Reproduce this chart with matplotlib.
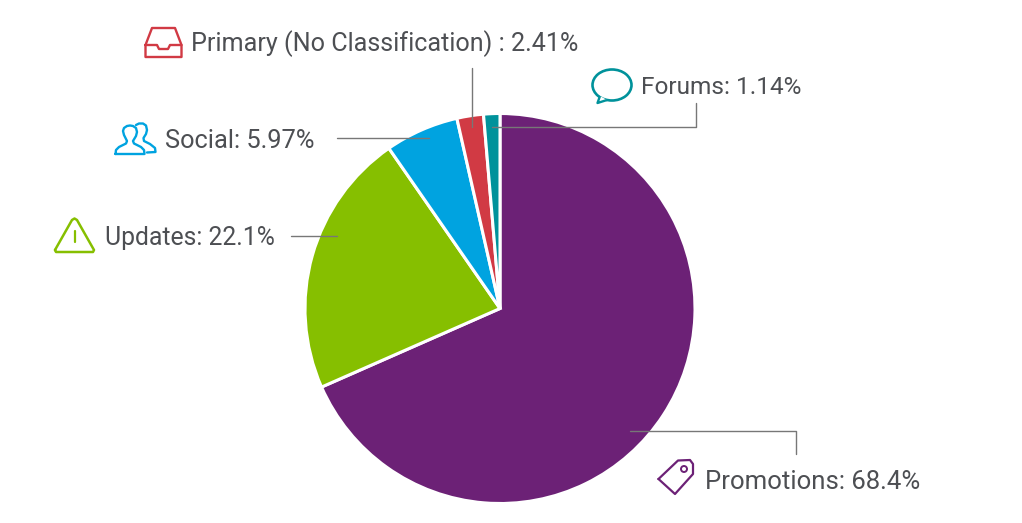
import matplotlib
matplotlib.use('Agg')
import matplotlib.pyplot as plt
from matplotlib.patches import Circle, Ellipse, Polygon

WIDTH = 1022
HEIGHT = 523

labels = ['Promotions: 68.4%', 'Updates: 22.1%', 'Social: 5.97%',
          'Primary (No Classification) : 2.41%', 'Forums: 1.14%']
# slice sizes as drawn in the picture, these differ a little from the printed labels
values = [68.4, 21.95, 6.1, 2.2, 1.35]
colors = ['#6c2176', '#86bf00', '#00a3e0', '#d13a44', '#00929b']

TEXT_COLOR = '#4d4f53'
LINE_COLOR = '#777777'


def Y(py):
    # the reference was read in pixels from the top, the axes count from the bottom
    return HEIGHT - py


def line(ax, xs, ys, color=LINE_COLOR, lw=1.0, z=5):
    ax.plot(xs, [Y(v) for v in ys], color=color, lw=lw, zorder=z,
            solid_capstyle='round', solid_joinstyle='round')


def draw_inbox(ax, c):
    line(ax, [145.5, 152, 175, 181.5, 181.5, 145.5, 145.5], [45, 28, 28, 45, 57, 57, 45], c, 1.7)
    line(ax, [145.5, 157, 159, 168, 170, 181.5], [45, 45, 49, 49, 45, 45], c, 1.7)


def draw_people(ax, c):
    # front person
    xs = [115.5, 116, 119, 126, 127, 124, 123, 124, 127, 130, 133, 136, 137, 136, 133, 134, 141, 144, 144.5, 115.5]
    ys = [154, 150, 147, 143.5, 141, 135, 131, 128, 126, 125.5, 126, 128, 132, 136, 141, 143.5, 147, 150, 154, 154]
    line(ax, xs, ys, c, 1.7)
    # rear person, partly hidden by the front one
    xs2 = [136, 139, 143, 146, 147, 146, 143.5, 144, 150, 155, 155.5, 147]
    ys2 = [125, 123.5, 123.5, 125.5, 130, 134, 138, 141, 144, 148, 152, 152.5]
    line(ax, xs2, ys2, c, 1.7)


def draw_warning(ax, c):
    line(ax, [55, 72, 74.5, 77, 94, 93, 56, 55], [250, 220, 218.5, 220, 250, 252, 252, 250], c, 1.8)
    line(ax, [74.5, 74.5], [231, 242], c, 1.6)
    line(ax, [74.5, 74.5], [245.5, 246], c, 1.8)


def draw_bubble(ax, c):
    ax.add_patch(Ellipse((612, Y(85)), 39, 31, fill=False, ec=c, lw=1.9, zorder=5))
    ax.add_patch(Polygon([(600, Y(96)), (597.5, Y(103)), (607, Y(100))], closed=False,
                         fc='white', ec=c, lw=1.7, zorder=6, joinstyle='round'))


def draw_tag(ax, c):
    line(ax, [658.5, 678, 690, 693, 693, 675, 658.5], [479, 460.5, 460, 464, 474, 494, 479], c, 1.6)
    ax.add_patch(Circle((684, Y(469)), 3, fill=False, ec=c, lw=1.4, zorder=5))


fig = plt.figure(figsize=(WIDTH / 100, HEIGHT / 100), dpi=100)
ax = fig.add_axes([0, 0, 1, 1])

ax.pie(values, colors=colors, startangle=90, counterclock=False,
       center=(500, Y(308.5)), radius=195,
       wedgeprops={'edgecolor': 'white', 'linewidth': 2.2})

ax.set_xlim(0, WIDTH)
ax.set_ylim(0, HEIGHT)
ax.set_aspect('equal')
ax.axis('off')

# leader lines
line(ax, [630, 796, 796], [431, 431, 454])
line(ax, [291, 337], [236, 236])
line(ax, [337, 429], [138, 138])
line(ax, [472, 472], [68, 127])
line(ax, [492, 696, 696], [127, 127, 103])

# labels, sizes nudged because the digits of the original font are narrower
positions = [(705, 482), (105, 238), (165, 141), (191, 44), (641, 88)]
sizes = [18.5, 17.8, 18.3, 18.1, 17.6]
for label, (x, y), size in zip(labels, positions, sizes):
    ax.text(x, Y(y), label, fontsize=size, color=TEXT_COLOR, va='center', ha='left',
            family='Roboto')

# icons next to the labels
draw_tag(ax, colors[0])
draw_warning(ax, colors[1])
draw_people(ax, colors[2])
draw_inbox(ax, colors[3])
draw_bubble(ax, colors[4])

fig.savefig('out.png', dpi=100, facecolor='white')
